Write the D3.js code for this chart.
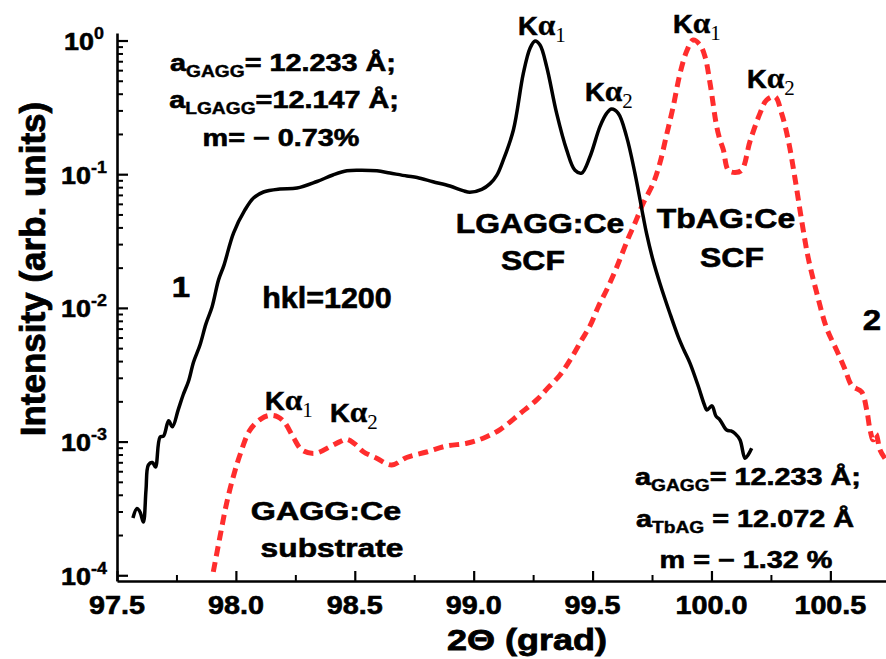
<!DOCTYPE html>
<html>
<head>
<meta charset="utf-8">
<script src="https://cdn.jsdelivr.net/npm/d3@7"></script>
<style>
  body { margin: 0; background: #fff; }
  svg { display: block; }
</style>
</head>
<body>
<svg id="chart" width="886" height="659"></svg>
<script>
// Curve 1: LGAGG:Ce SCF on GAGG:Ce (2-theta in degrees, normalised intensity)
const twoTheta1 = [97.567, 97.584, 97.597, 97.611, 97.622, 97.632, 97.649, 97.662, 97.681, 97.696,
  97.717, 97.733, 97.757, 97.778, 97.801, 97.822, 97.849, 97.874, 97.900, 97.927,
  97.950, 97.990, 98.038, 98.074, 98.116, 98.185, 98.257, 98.341, 98.408, 98.467,
  98.522, 98.593, 98.648, 98.719, 98.762, 98.829, 98.900, 98.955, 98.984, 99.034,
  99.069, 99.097, 99.124, 99.167, 99.209, 99.237, 99.258, 99.279, 99.307, 99.349,
  99.391, 99.426, 99.454, 99.489, 99.531, 99.559, 99.580, 99.608, 99.643, 99.678,
  99.713, 99.727, 99.754, 99.783, 99.825, 99.860, 99.884, 99.910, 99.945, 99.969,
  99.981, 100.002, 100.019, 100.036, 100.064, 100.082, 100.099, 100.120, 100.141, 100.154,
  100.169];
const intensity1 = [2.68e-4, 3.16e-4, 2.97e-4, 2.50e-4, 4.35e-4, 6.68e-4, 6.98e-4, 6.46e-4, 1.08e-3, 1.10e-3,
  1.43e-3, 1.29e-3, 1.72e-3, 2.23e-3, 2.84e-3, 3.94e-3, 5.28e-3, 7.59e-3, 1.02e-2, 1.62e-2,
  2.09e-2, 3.63e-2, 5.40e-2, 6.64e-2, 7.36e-2, 7.75e-2, 7.88e-2, 8.82e-2, 9.86e-2, 0.106,
  0.107, 0.106, 0.102, 0.0970, 0.0945, 0.0879, 0.0816, 0.0753, 0.0732, 0.0770,
  0.0850, 0.0980, 0.127, 0.214, 0.569, 0.875, 0.991, 0.925, 0.637, 0.285,
  0.152, 0.107, 0.102, 0.135, 0.227, 0.285, 0.307, 0.285, 0.191, 0.102,
  0.0481, 0.0361, 0.0228, 0.0153, 9.12e-3, 6.10e-3, 4.84e-3, 3.85e-3, 2.58e-3, 1.91e-3,
  1.72e-3, 1.85e-3, 1.55e-3, 1.45e-3, 1.22e-3, 1.20e-3, 1.15e-3, 1.03e-3, 7.50e-4, 7.94e-4,
  8.91e-4];

// Curve 2: TbAG:Ce SCF on GAGG:Ce
const twoTheta2 = [97.905, 97.933, 97.961, 97.989, 98.017, 98.059, 98.106, 98.143, 98.177, 98.206,
  98.241, 98.278, 98.333, 98.396, 98.438, 98.466, 98.501, 98.536, 98.592, 98.655,
  98.718, 98.802, 98.886, 98.971, 99.040, 99.111, 99.195, 99.265, 99.312, 99.363,
  99.412, 99.454, 99.489, 99.524, 99.559, 99.594, 99.622, 99.650, 99.678, 99.713,
  99.755, 99.783, 99.811, 99.839, 99.868, 99.896, 99.923, 99.952, 99.973, 99.994,
  100.022, 100.036, 100.050, 100.071, 100.099, 100.127, 100.162, 100.204, 100.232, 100.267,
  100.295, 100.323, 100.351, 100.379, 100.407, 100.442, 100.484, 100.526, 100.561, 100.591,
  100.631, 100.653, 100.667, 100.680, 100.692, 100.709, 100.734];
const intensity2 = [1.06e-4, 1.94e-4, 3.46e-4, 5.46e-4, 7.94e-4, 1.22e-3, 1.48e-3, 1.57e-3, 1.53e-3, 1.38e-3,
  1.08e-3, 8.65e-4, 8.17e-4, 9.16e-4, 1.00e-3, 1.04e-3, 9.59e-4, 8.40e-4, 7.50e-4, 6.68e-4,
  7.60e-4, 8.36e-4, 9.27e-4, 9.71e-4, 1.06e-3, 1.23e-3, 1.62e-3, 2.05e-3, 2.52e-3, 3.15e-3,
  4.26e-3, 5.75e-3, 7.33e-3, 1.02e-2, 1.36e-2, 1.87e-2, 2.49e-2, 3.32e-2, 4.30e-2, 6.06e-2,
  8.55e-2, 0.121, 0.196, 0.320, 0.569, 0.834, 1.01, 0.925, 0.757, 0.479,
  0.227, 0.180, 0.152, 0.107, 0.103, 0.107, 0.176, 0.285, 0.359, 0.380,
  0.285, 0.180, 0.0937, 0.0454, 0.0236, 0.0131, 7.08e-3, 4.84e-3, 3.49e-3, 2.61e-3,
  2.36e-3, 1.72e-3, 1.22e-3, 1.03e-3, 1.14e-3, 8.65e-4, 7.28e-4];

// Axis ticks
const xTicks = [97.5, 98.0, 98.5, 99.0, 99.5, 100.0, 100.5];
const xMinorTicks = [97.75, 98.25, 98.75, 99.25, 99.75, 100.25];
const yTicks = [1e-4, 1e-3, 1e-2, 1e-1, 1];
const yTickExponents = ["-4", "-3", "-2", "-1", "0"];
const yMinorMultipliers = [2, 3, 4, 5, 6, 7, 8, 9];

const SANS = "'Liberation Sans', Arial, Helvetica, sans-serif";
const SERIF = "'Liberation Serif', 'Times New Roman', serif";

const svg = d3.select("#chart");

const x = d3.scaleLinear().domain([97.5, 100.734]).range([117, 886]);
const y = d3.scaleLog().domain([9.06e-5, 1.138]).range([581, 33]);

const yMinorTicks = [];
yTicks.slice(0, -1).forEach(d => yMinorMultipliers.forEach(m => yMinorTicks.push(d * m)));

// Curves
const line = d3.line()
  .x(d => x(d[0]))
  .y(d => y(d[1]))
  .curve(d3.curveCatmullRom.alpha(0.5));

svg.append("path")
  .datum(twoTheta2.map((t, i) => [t, intensity2[i]]))
  .attr("d", line)
  .attr("fill", "none")
  .attr("stroke", "#ff2d2d")
  .attr("stroke-width", 5)
  .attr("stroke-dasharray", "10,6");

svg.append("path")
  .datum(twoTheta1.map((t, i) => [t, intensity1[i]]))
  .attr("d", line)
  .attr("fill", "none")
  .attr("stroke", "#000")
  .attr("stroke-width", 3.5)
  .attr("stroke-linejoin", "round");

// Axes (ticks point inward)
function styleAxis(g, width) {
  g.selectAll(".domain").attr("stroke", "#000").attr("stroke-width", 2.6);
  g.selectAll(".tick line").attr("stroke", "#000").attr("stroke-width", width);
  g.selectAll(".tick text").remove();
}

svg.append("g").attr("transform", "translate(0,581)")
  .call(d3.axisBottom(x).tickValues(xMinorTicks).tickSizeInner(-6).tickSizeOuter(0).tickFormat(""))
  .call(g => { styleAxis(g, 2); g.select(".domain").remove(); });
svg.append("g").attr("transform", "translate(0,581)")
  .call(d3.axisBottom(x).tickValues(xTicks).tickSizeInner(-10).tickSizeOuter(0).tickFormat(""))
  .call(g => styleAxis(g, 2.2));

svg.append("g").attr("transform", "translate(117,0)")
  .call(d3.axisLeft(y).tickValues(yMinorTicks).tickSizeInner(-6).tickSizeOuter(0).tickFormat(""))
  .call(g => { styleAxis(g, 2); g.select(".domain").remove(); });
svg.append("g").attr("transform", "translate(117,0)")
  .call(d3.axisLeft(y).tickValues(yTicks).tickSizeInner(-11).tickSizeOuter(0).tickFormat(""))
  .call(g => styleAxis(g, 2.2));

// Text with sub/superscript parts
function richText(x0, y0, parts, o) {
  const t = svg.append("text")
    .attr("transform", `translate(${x0},${y0}) scale(${o.sx || 1},1)` + (o.rotate ? ` rotate(${o.rotate})` : ""))
    .attr("text-anchor", o.anchor || "middle")
    .attr("font-family", o.family || SANS)
    .attr("font-weight", o.weight || "bold")
    .attr("font-size", o.size)
    .attr("fill", "#000")
    .attr("stroke", "#000")
    .attr("stroke-width", o.heavy === undefined ? 0.6 : o.heavy);
  let shift = 0;
  parts.forEach(p => {
    const ts = t.append("tspan").text(p.t);
    const s = p.shift || 0;
    if (s !== shift) { ts.attr("dy", s - shift); shift = s; }
    if (p.size) ts.attr("font-size", p.size);
    if (p.family) ts.attr("font-family", p.family);
    if (p.weight) ts.attr("font-weight", p.weight);
    if (p.stroke !== undefined) ts.attr("stroke-width", p.stroke);
    if (p.dx) ts.attr("dx", p.dx);
  });
  return t;
}

// Tick labels
const fmtX = d3.format(".1f");
xTicks.forEach(v => richText(x(v), 614, [{ t: fmtX(v) }], { size: 25, sx: 1.15 }));
yTicks.forEach((v, i) => richText(84, y(v) + 9.5, [
  { t: "10" },
  { t: yTickExponents[i], size: 16, shift: -11, stroke: 0.4 }
], { size: 24, sx: 1.12 }));

// Axis titles
richText(527, 650, [{ t: "2Θ (grad)" }], { size: 30, sx: 1.2, heavy: 0.8 });
richText(45, 269, [{ t: "Intensity (arb. units)" }], { size: 35, rotate: -90, heavy: 0.8 });

// Lattice parameters and mismatch
const blockOpt = { size: 24, sx: 1.2 };
richText(283, 71, [{ t: "a" }, { t: "GAGG", size: 16, shift: 6, stroke: 0.4 }, { t: "= 12.233 Å;", shift: 0 }], blockOpt);
richText(284, 108, [{ t: "a" }, { t: "LGAGG", size: 16, shift: 6, stroke: 0.4 }, { t: "=12.147 Å;", shift: 0 }], blockOpt);
richText(281, 146, [{ t: "m= − 0.73%" }], blockOpt);

richText(748, 485, [{ t: "a" }, { t: "GAGG", size: 16, shift: 6, stroke: 0.4 }, { t: "= 12.233 Å;", shift: 0 }], blockOpt);
richText(745, 527, [{ t: "a" }, { t: "TbAG", size: 16, shift: 6, stroke: 0.4 }, { t: " = 12.072 Å", shift: 0 }], blockOpt);
richText(746, 568, [{ t: "m = − 1.32 %" }], blockOpt);

// K-alpha peak labels
function kAlpha(x0, y0, sub) {
  richText(x0, y0, [
    { t: "K" },
    { t: "α", family: SERIF, weight: "bold", size: 30, stroke: 0.3 },
    { t: sub, family: SERIF, weight: "normal", size: 20, shift: 7, stroke: 0 }
  ], { size: 26, sx: 1.05, anchor: "start" });
}
kAlpha(518, 35, "1");
kAlpha(585, 101, "2");
kAlpha(673, 33, "1");
kAlpha(747, 88, "2");
kAlpha(265, 410, "1");
kAlpha(330, 422, "2");

// Sample labels
richText(540, 233, [{ t: "LGAGG:Ce" }], { size: 28, sx: 1.14 });
richText(533, 270, [{ t: "SCF" }], { size: 28, sx: 1.14 });
richText(726, 228, [{ t: "TbAG:Ce" }], { size: 28, sx: 1.14 });
richText(732, 267, [{ t: "SCF" }], { size: 28, sx: 1.14 });
richText(326, 520, [{ t: "GAGG:Ce" }], { size: 26, sx: 1.24 });
richText(332, 557, [{ t: "substrate" }], { size: 26, sx: 1.22 });
richText(327, 308, [{ t: "hkl=1200" }], { size: 29, sx: 1.05 });
richText(181, 297, [{ t: "1" }], { size: 30, sx: 1.1 });
richText(872, 330, [{ t: "2" }], { size: 30, sx: 1.1 });
</script>
</body>
</html>
